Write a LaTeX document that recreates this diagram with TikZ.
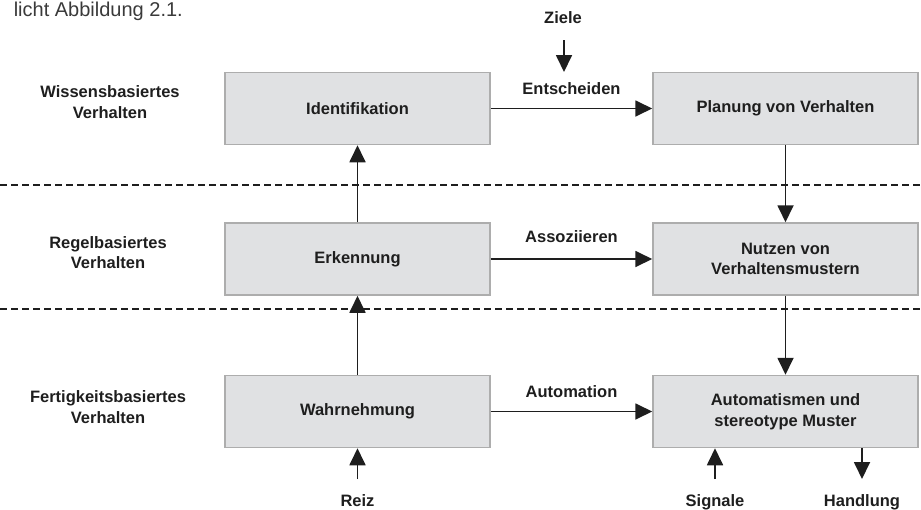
\documentclass[tikz,border=0pt]{standalone}
\usepackage{fontspec}
\setmainfont{Liberation Sans}
\usetikzlibrary{arrows.meta}
\definecolor{boxfill}{HTML}{E0E1E3}
\definecolor{boxline}{HTML}{ADADAD}
\definecolor{ink}{HTML}{1E1E1E}
\definecolor{captxt}{HTML}{3A3A3A}
\begin{document}
\begin{tikzpicture}[x=1pt,y=-1pt,
  font=\fontsize{16.5}{20.5}\selectfont\bfseries,
  box/.style={draw=boxline, line width=1.5pt, fill=boxfill, minimum width=265pt,
    minimum height=72pt, align=center, text=ink, inner sep=0pt},
  flow/.style={draw=ink, line width=1.8pt, -{Triangle[length=17pt,width=16pt]}},
  lbl/.style={text=ink, align=center, inner sep=0pt},
  sep/.style={draw=ink, line width=1.8pt, dash pattern=on 7pt off 4pt}]
\useasboundingbox (0,0) rectangle (921,509);

% caption fragment
\node[anchor=base east, inner sep=0pt, text=captxt, font=\fontsize{20}{22}\selectfont] (cap) at (183,16) {licht Abbildung 2.1.};

% separators
\coordinate (s1a) at (0,185);  \coordinate (s1b) at (921,185);
\coordinate (s2a) at (0,309);  \coordinate (s2b) at (921,309);
\draw[sep] (s1a) -- (s1b);
\draw[sep] (s2a) -- (s2b);

% level labels
\node[lbl] (lw) at (110,102) {Wissensbasiertes\\Verhalten};
\node[lbl] (lr) at (108,252.5) {Regelbasiertes\\Verhalten};
\node[lbl] (lf) at (108,407) {Fertigkeitsbasiertes\\Verhalten};

% boxes
\node[box] (ident) at (357.5,108.5) {Identifikation};
\node[box] (plan)  at (785.5,108.5) {Planung von Verhalten};
\node[box] (erk)   at (357.5,259)   {Erkennung};
\node[box] (nutz)  at (785.5,259)   {Nutzen von\\Verhaltensmustern};
\node[box] (wahr)  at (357.5,411.5) {Wahrnehmung};
\node[box] (auto)  at (785.5,411.5) {Automatismen und\\stereotype Muster};

% horizontal flows
\draw[flow] (ident) -- node[lbl, midway, above=13pt] (entsch) {Entscheiden} (plan);
\draw[flow] (erk)   -- node[lbl, midway, above=15pt] (assoz) {Assoziieren} (nutz);
\draw[flow] (wahr)  -- node[lbl, midway, above=13pt] (autom) {Automation} (auto);

% vertical flows
\draw[flow] (wahr) -- (erk);
\draw[flow] (erk) -- (ident);
\draw[flow] (plan) -- (nutz);
\draw[flow] (nutz) -- (auto);

% inputs / outputs
\node[lbl] (ziele) at (563,18) {Ziele};
\coordinate (zs) at (564,40);
\coordinate (ze) at (564,72);
\draw[flow] (zs) -- (ze);

\node[lbl] (reiz) at (357.5,501) {Reiz};
\coordinate (rs) at (357.5,479);
\draw[flow] (rs) -- (wahr.south);

\node[lbl] (sig) at (715,502) {Signale};
\coordinate (ss) at (715,479);
\draw[flow] (ss) -- (ss |- auto.south);

\node[lbl] (hand) at (862,502) {Handlung};
\coordinate (he) at (862,479);
\draw[flow] (he |- auto.south) -- (he);
\end{tikzpicture}
\end{document}
